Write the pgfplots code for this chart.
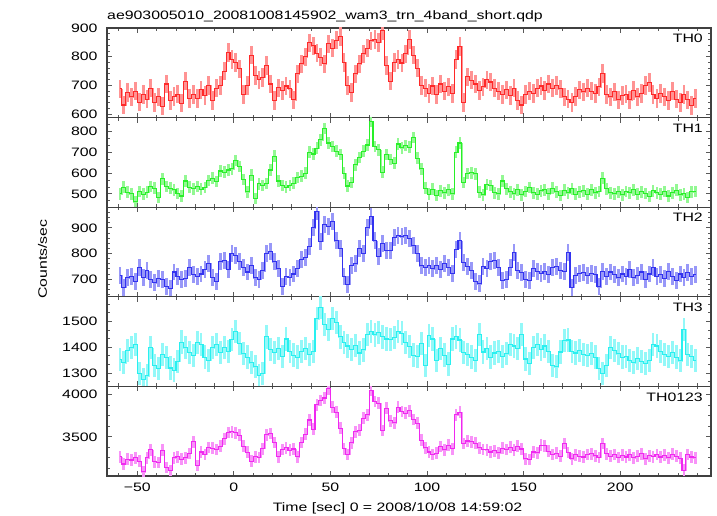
\documentclass[border=0pt]{standalone}
\usepackage{fontspec}
\setmainfont{Liberation Sans}[FakeStretch=1.3]
\usepackage{pgfplots}
\usepackage{pgfplotstable}
\pgfplotsset{compat=1.18}
\definecolor{cR}{RGB}{255,40,40}
\definecolor{cG}{RGB}{40,240,40}
\definecolor{cB}{RGB}{50,50,240}
\definecolor{cC}{RGB}{40,240,240}
\definecolor{cM}{RGB}{240,40,240}
\newcommand\fsz{\fontsize{12.2}{14}\selectfont}
\pgfplotsset{
 panel/.style={
  scale only axis, width=604pt, height=89.6pt, anchor=north west,
  xmin=-65.7, xmax=247,
  xtick={-50,0,50,100,150,200},
  minor xtick={-60,-40,-30,-20,-10,10,20,30,40,60,70,80,90,110,120,130,140,160,170,180,190,210,220,230,240},
  xticklabels={},
  tick align=inside,
  major tick length=5pt, minor tick length=3pt,
  axis line style={line width=1.2pt, black!75},
  every tick/.style={black!65, line width=0.9pt},
  tick label style={font=\fsz},
  yticklabel style={xshift=-6pt},
  xticklabel style={yshift=-3.5pt},
  clip=true,
 },
 eb/.style n args={2}{#1!50!white, line width=0.4pt, const plot mark mid,
   error bars/.cd, y dir=both, y fixed=#2, error mark=none,
   error bar style={line width=2.8pt, #1!50!white}},
 ln/.style={#1, line width=1.1pt, const plot mark mid},
}
\begin{document}
\pgfplotstableread[row sep=\\]{t y\\
-59 688\\ -57 632\\ -55 675\\ -53 660\\ -51 680\\ -49 642\\ -47 668\\ -45 652\\ -43 690\\ -41 640\\
-39 660\\ -37 628\\ -35 705\\ -33 648\\ -31 662\\ -29 670\\ -27 638\\ -25 715\\ -23 655\\ -21 668\\
-19 655\\ -17 685\\ -15 665\\ -13 700\\ -11 648\\ -9 690\\ -7 700\\ -5 750\\ -3 815\\ -1 790\\
1 780\\ 3 758\\ 5 668\\ 7 700\\ 9 805\\ 11 735\\ 13 720\\ 15 728\\ 17 770\\ 19 705\\
21 648\\ 23 692\\ 25 682\\ 27 698\\ 29 688\\ 31 650\\ 33 740\\ 35 775\\ 37 800\\ 39 848\\
41 838\\ 43 812\\ 45 798\\ 47 775\\ 49 845\\ 51 830\\ 53 858\\ 55 870\\ 57 780\\ 59 700\\
61 675\\ 63 740\\ 65 775\\ 67 810\\ 69 830\\ 71 855\\ 73 860\\ 75 850\\ 77 890\\ 79 770\\
81 715\\ 83 780\\ 85 790\\ 87 778\\ 89 810\\ 91 860\\ 93 805\\ 95 760\\ 97 700\\ 99 690\\
101 672\\ 103 698\\ 105 668\\ 107 705\\ 109 680\\ 111 695\\ 113 672\\ 115 790\\ 117 835\\ 119 640\\
121 730\\ 123 718\\ 125 705\\ 127 682\\ 129 695\\ 131 720\\ 133 712\\ 135 690\\ 137 680\\ 139 668\\
141 685\\ 143 665\\ 145 690\\ 147 648\\ 149 632\\ 151 668\\ 153 680\\ 155 672\\ 157 690\\ 159 698\\
161 682\\ 163 705\\ 165 690\\ 167 700\\ 169 688\\ 171 660\\ 173 652\\ 175 640\\ 177 662\\ 179 685\\
181 678\\ 183 690\\ 185 680\\ 187 672\\ 189 695\\ 191 742\\ 193 668\\ 195 660\\ 197 678\\ 199 650\\
201 665\\ 203 670\\ 205 650\\ 207 682\\ 209 660\\ 211 672\\ 213 700\\ 215 710\\ 217 668\\ 219 655\\
221 672\\ 223 660\\ 225 648\\ 227 680\\ 229 652\\ 231 640\\ 233 668\\ 235 650\\ 237 630\\ 239 655\\
}\tA
\pgfplotstableread[row sep=\\]{t y\\
-59 500\\ -57 532\\ -55 508\\ -53 500\\ -51 462\\ -49 512\\ -47 498\\ -45 508\\ -43 535\\ -41 528\\
-39 482\\ -37 572\\ -35 535\\ -33 528\\ -31 520\\ -29 502\\ -27 490\\ -25 562\\ -23 532\\ -21 525\\
-19 535\\ -17 522\\ -15 530\\ -13 565\\ -11 575\\ -9 560\\ -7 610\\ -5 605\\ -3 615\\ -1 620\\
1 660\\ 3 632\\ 5 570\\ 7 510\\ 9 590\\ 11 478\\ 13 548\\ 15 540\\ 17 550\\ 19 615\\
21 682\\ 23 562\\ 25 540\\ 27 532\\ 29 540\\ 31 552\\ 33 578\\ 35 585\\ 37 600\\ 39 700\\
41 692\\ 43 720\\ 45 760\\ 47 815\\ 49 745\\ 51 728\\ 53 705\\ 55 690\\ 57 600\\ 59 538\\
61 555\\ 63 640\\ 65 675\\ 67 705\\ 69 735\\ 71 850\\ 73 728\\ 75 712\\ 77 605\\ 79 690\\
81 665\\ 83 648\\ 85 740\\ 87 722\\ 89 732\\ 91 725\\ 93 772\\ 95 672\\ 97 620\\ 99 528\\
101 498\\ 103 522\\ 105 492\\ 107 515\\ 109 505\\ 111 520\\ 113 500\\ 115 700\\ 117 745\\ 119 555\\
121 598\\ 123 602\\ 125 596\\ 127 508\\ 129 495\\ 131 545\\ 133 540\\ 135 505\\ 137 500\\ 139 562\\
141 525\\ 143 510\\ 145 500\\ 147 520\\ 149 495\\ 151 512\\ 153 530\\ 155 505\\ 157 498\\ 159 515\\
161 520\\ 163 500\\ 165 528\\ 167 510\\ 169 492\\ 171 518\\ 173 505\\ 175 525\\ 177 498\\ 179 510\\
181 515\\ 183 498\\ 185 520\\ 187 505\\ 189 512\\ 191 575\\ 193 525\\ 195 505\\ 197 500\\ 199 510\\
201 495\\ 203 512\\ 205 505\\ 207 520\\ 209 498\\ 211 510\\ 213 502\\ 215 488\\ 217 515\\ 219 505\\
221 498\\ 223 512\\ 225 490\\ 227 505\\ 229 518\\ 231 495\\ 233 500\\ 235 482\\ 237 510\\ 239 512\\
}\tB
\pgfplotstableread[row sep=\\]{t y\\
-59 715\\ -57 668\\ -55 705\\ -53 710\\ -51 690\\ -49 745\\ -47 708\\ -45 732\\ -43 700\\ -41 686\\
-39 702\\ -37 700\\ -35 672\\ -33 665\\ -31 728\\ -29 710\\ -27 698\\ -25 704\\ -23 745\\ -21 718\\
-19 712\\ -17 720\\ -15 738\\ -13 762\\ -11 705\\ -9 690\\ -7 768\\ -5 772\\ -3 738\\ -1 800\\
1 792\\ 3 768\\ 5 745\\ 7 728\\ 9 755\\ 11 705\\ 13 698\\ 15 732\\ 17 800\\ 19 808\\
21 768\\ 23 740\\ 25 672\\ 27 712\\ 29 708\\ 31 720\\ 33 742\\ 35 778\\ 37 785\\ 39 828\\
41 900\\ 43 965\\ 45 848\\ 47 912\\ 49 905\\ 51 925\\ 53 850\\ 55 820\\ 57 712\\ 59 680\\
61 755\\ 63 760\\ 65 820\\ 67 800\\ 69 900\\ 71 945\\ 73 850\\ 75 790\\ 77 840\\ 79 812\\
81 812\\ 83 862\\ 85 870\\ 87 865\\ 89 872\\ 91 858\\ 93 830\\ 95 800\\ 97 752\\ 99 745\\
101 755\\ 103 740\\ 105 752\\ 107 738\\ 109 760\\ 111 745\\ 113 722\\ 115 815\\ 117 850\\ 119 765\\
121 750\\ 123 735\\ 125 692\\ 127 682\\ 129 748\\ 131 742\\ 133 770\\ 135 772\\ 137 745\\ 139 695\\
141 700\\ 143 745\\ 145 805\\ 147 735\\ 149 725\\ 151 700\\ 153 695\\ 155 740\\ 157 730\\ 159 722\\
161 730\\ 163 718\\ 165 745\\ 167 748\\ 169 735\\ 171 730\\ 173 805\\ 175 668\\ 177 715\\ 179 722\\
181 725\\ 183 715\\ 185 722\\ 187 718\\ 189 670\\ 191 730\\ 193 712\\ 195 728\\ 197 718\\ 199 705\\
201 720\\ 203 712\\ 205 738\\ 207 705\\ 209 715\\ 211 728\\ 213 700\\ 215 720\\ 217 745\\ 219 710\\
221 718\\ 223 702\\ 225 730\\ 227 712\\ 229 695\\ 231 720\\ 233 708\\ 235 725\\ 237 712\\ 239 718\\
}\tC
\pgfplotstableread[row sep=\\]{t y\\
-59 1352\\ -57 1340\\ -55 1388\\ -53 1398\\ -51 1412\\ -49 1300\\ -47 1275\\ -45 1290\\ -43 1398\\ -41 1330\\
-39 1318\\ -37 1372\\ -35 1360\\ -33 1320\\ -31 1312\\ -29 1345\\ -27 1420\\ -25 1398\\ -23 1380\\ -21 1368\\
-19 1418\\ -17 1412\\ -15 1362\\ -13 1350\\ -11 1398\\ -9 1410\\ -7 1380\\ -5 1400\\ -3 1385\\ -1 1430\\
1 1460\\ 3 1415\\ 5 1375\\ 7 1362\\ 9 1340\\ 11 1325\\ 13 1292\\ 15 1300\\ 17 1440\\ 19 1392\\
21 1380\\ 23 1395\\ 25 1365\\ 27 1432\\ 29 1385\\ 31 1370\\ 33 1362\\ 35 1385\\ 37 1395\\ 39 1372\\
41 1385\\ 43 1510\\ 45 1555\\ 47 1488\\ 49 1470\\ 51 1512\\ 53 1495\\ 55 1440\\ 57 1418\\ 59 1405\\
61 1392\\ 63 1408\\ 65 1378\\ 67 1390\\ 69 1450\\ 71 1462\\ 73 1448\\ 75 1458\\ 77 1440\\ 79 1432\\
81 1430\\ 83 1438\\ 85 1460\\ 87 1455\\ 89 1418\\ 91 1402\\ 93 1370\\ 95 1365\\ 97 1415\\ 99 1330\\
101 1445\\ 103 1432\\ 105 1350\\ 107 1395\\ 109 1370\\ 111 1335\\ 113 1432\\ 115 1440\\ 117 1428\\ 119 1380\\
121 1372\\ 123 1362\\ 125 1350\\ 127 1450\\ 129 1382\\ 131 1395\\ 133 1362\\ 135 1378\\ 137 1385\\ 139 1365\\
141 1375\\ 143 1410\\ 145 1405\\ 147 1395\\ 149 1450\\ 151 1355\\ 153 1338\\ 155 1400\\ 157 1412\\ 159 1392\\
161 1405\\ 163 1385\\ 165 1330\\ 167 1325\\ 169 1382\\ 171 1425\\ 173 1428\\ 175 1385\\ 177 1378\\ 179 1388\\
181 1372\\ 183 1368\\ 185 1375\\ 187 1362\\ 189 1318\\ 191 1300\\ 193 1330\\ 195 1398\\ 197 1388\\ 199 1375\\
201 1362\\ 203 1365\\ 205 1350\\ 207 1340\\ 209 1358\\ 211 1345\\ 213 1338\\ 215 1350\\ 217 1410\\ 219 1405\\
221 1385\\ 223 1372\\ 225 1365\\ 227 1380\\ 229 1362\\ 231 1348\\ 233 1470\\ 235 1372\\ 237 1365\\ 239 1350\\
}\tD
\pgfplotstableread[row sep=\\]{t y\\
-59 3262\\ -57 3178\\ -55 3235\\ -53 3225\\ -51 3252\\ -49 3210\\ -47 3085\\ -45 3250\\ -43 3345\\ -41 3205\\
-39 3195\\ -37 3340\\ -35 3135\\ -33 3100\\ -31 3252\\ -29 3262\\ -27 3232\\ -25 3250\\ -23 3302\\ -21 3440\\
-19 3160\\ -17 3320\\ -15 3290\\ -13 3372\\ -11 3365\\ -9 3350\\ -7 3390\\ -5 3478\\ -3 3550\\ -1 3560\\
1 3548\\ 3 3520\\ 5 3390\\ 7 3318\\ 9 3210\\ 11 3262\\ 13 3255\\ 15 3360\\ 17 3525\\ 19 3540\\
21 3432\\ 23 3265\\ 25 3350\\ 27 3368\\ 29 3340\\ 31 3355\\ 33 3262\\ 35 3432\\ 37 3530\\ 39 3700\\
41 3590\\ 43 3880\\ 45 3930\\ 47 3960\\ 49 4070\\ 51 3850\\ 53 3790\\ 55 3600\\ 57 3360\\ 59 3290\\
61 3430\\ 63 3560\\ 65 3580\\ 67 3720\\ 69 3760\\ 71 4050\\ 73 3920\\ 75 3900\\ 77 3575\\ 79 3840\\
81 3690\\ 83 3665\\ 85 3850\\ 87 3800\\ 89 3780\\ 91 3810\\ 93 3705\\ 95 3660\\ 97 3460\\ 99 3370\\
101 3320\\ 103 3290\\ 105 3305\\ 107 3385\\ 109 3345\\ 111 3400\\ 113 3360\\ 115 3760\\ 117 3790\\ 119 3420\\
121 3450\\ 123 3440\\ 125 3425\\ 127 3370\\ 129 3350\\ 131 3345\\ 133 3320\\ 135 3335\\ 137 3310\\ 139 3365\\
141 3350\\ 143 3375\\ 145 3340\\ 147 3390\\ 149 3355\\ 151 3240\\ 153 3230\\ 155 3320\\ 157 3310\\ 159 3400\\
161 3395\\ 163 3330\\ 165 3290\\ 167 3305\\ 169 3270\\ 171 3420\\ 173 3315\\ 175 3240\\ 177 3285\\ 179 3270\\
181 3260\\ 183 3290\\ 185 3300\\ 187 3275\\ 189 3255\\ 191 3420\\ 193 3300\\ 195 3270\\ 197 3290\\ 199 3255\\
201 3280\\ 203 3260\\ 205 3285\\ 207 3250\\ 209 3270\\ 211 3300\\ 213 3240\\ 215 3275\\ 217 3265\\ 219 3290\\
221 3260\\ 223 3280\\ 225 3250\\ 227 3295\\ 229 3270\\ 231 3245\\ 233 3105\\ 235 3290\\ 237 3260\\ 239 3250\\
}\tE
\begin{tikzpicture}
\path[use as bounding box] (-107pt,28pt) rectangle (610pt,-488pt);
% TH0
\begin{axis}[panel, at={(0pt,0pt)},
  ymin=588, ymax=900, ytick={600,700,800,900}, yticklabels={600,700,800,900},
  minor ytick={620,640,660,680,720,740,760,780,820,840,860,880}]
\addplot[eb={cR}{32}] table[x=t,y=y]{\tA};
\addplot[ln=cR] table[x=t,y=y]{\tA};
\node[anchor=base east, inner sep=0pt, font=\fsz, xshift=-8pt, yshift=-14.7pt] at (rel axis cs:1,1) {TH0};
\end{axis}
% TH1
\begin{axis}[panel, at={(0pt,-89.6pt)},
  ymin=436, ymax=867, ytick={500,600,700,800}, yticklabels={500,600,700,800},
  minor ytick={466.67,533.33,566.67,633.33,666.67,733.33,766.67,833.33,866.67}]
\addplot[eb={cG}{28}] table[x=t,y=y]{\tB};
\addplot[ln=cG] table[x=t,y=y]{\tB};
\node[anchor=base east, inner sep=0pt, font=\fsz, xshift=-8pt, yshift=-14.7pt] at (rel axis cs:1,1) {TH1};
\end{axis}
% TH2
\begin{axis}[panel, at={(0pt,-179.2pt)},
  ymin=631, ymax=981, ytick={700,800,900}, yticklabels={700,800,900},
  minor ytick={640,660,680,720,740,760,780,820,840,860,880,920,940,960,980}]
\addplot[eb={cB}{33}] table[x=t,y=y]{\tC};
\addplot[ln=cB] table[x=t,y=y]{\tC};
\node[anchor=base east, inner sep=0pt, font=\fsz, xshift=-8pt, yshift=-14.7pt] at (rel axis cs:1,1) {TH2};
\end{axis}
% TH3
\begin{axis}[panel, at={(0pt,-268.8pt)},
  ymin=1249, ymax=1595, ytick={1300,1400,1500}, yticklabels={1300,1400,1500},
  minor ytick={1266.67,1333.33,1366.67,1433.33,1466.67,1533.33,1566.67}]
\addplot[eb={cC}{45}] table[x=t,y=y]{\tD};
\addplot[ln=cC] table[x=t,y=y]{\tD};
\node[anchor=base east, inner sep=0pt, font=\fsz, xshift=-8pt, yshift=-14.7pt] at (rel axis cs:1,1) {TH3};
\end{axis}
% TH0123
\begin{axis}[panel, at={(0pt,-358.4pt)},
  ymin=3035, ymax=4098, ytick={3500,4000}, yticklabels={3500,4000},
  minor ytick={3125,3250,3375,3625,3750,3875},
  xticklabels={−50,0,50,100,150,200}]
\addplot[eb={cM}{70}] table[x=t,y=y]{\tE};
\addplot[ln=cM] table[x=t,y=y]{\tE};
\node[anchor=base east, inner sep=0pt, font=\fsz, xshift=-8pt, yshift=-14.7pt] at (rel axis cs:1,1) {TH0123};
\end{axis}
\node[anchor=base west, inner sep=0pt, font=\fsz] at (0pt,8pt) {ae903005010\_20081008145902\_wam3\_trn\_4band\_short.qdp};
\node[rotate=90, anchor=base, inner sep=0pt, font=\fsz] at (-60pt,-231pt) {Counts/sec};
\node[anchor=base, inner sep=0pt, font=\fsz] at (290.5pt,-483pt) {Time [sec] 0 = 2008/10/08 14:59:02};
\end{tikzpicture}
\end{document}
